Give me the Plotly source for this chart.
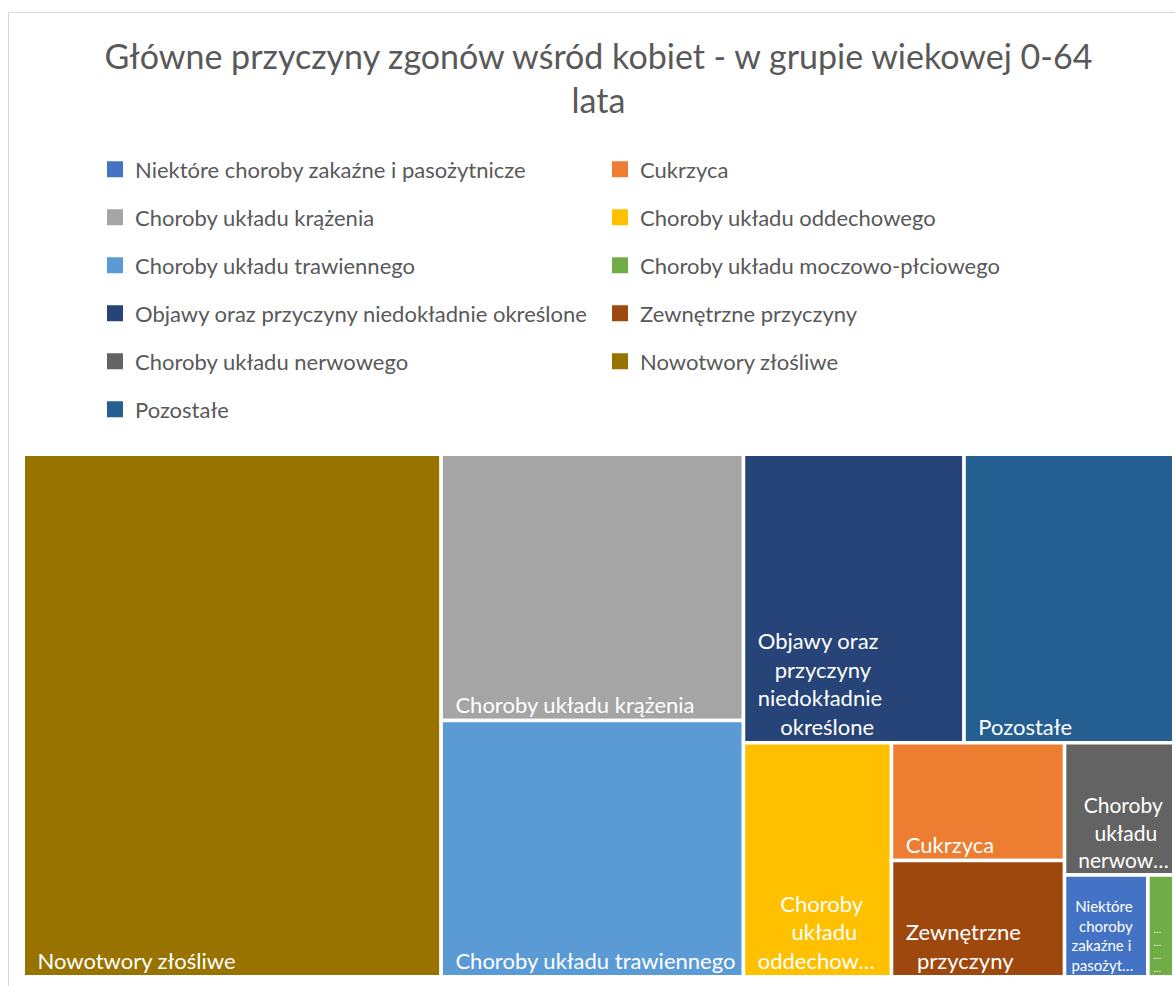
import plotly.graph_objects as go

# ---- data ----
categories = [
    "Nowotwory złośliwe",
    "Choroby układu krążenia",
    "Choroby układu trawiennego",
    "Objawy oraz przyczyny niedokładnie określone",
    "Pozostałe",
    "Choroby układu oddechowego",
    "Cukrzyca",
    "Zewnętrzne przyczyny",
    "Choroby układu nerwowego",
    "Niektóre choroby zakaźne i pasożytnicze",
    "Choroby układu moczowo-płciowego",
]
values = [2162, 797, 767, 630, 599, 343, 202, 199, 143, 84, 26]

N = "\u00a0"
tile_text = [
    N * 2 + "Nowotwory złośliwe",
    N * 2 + "Choroby układu krążenia",
    N * 2 + "Choroby układu trawiennego",
    "<br>".join([N * 2 + "Objawy oraz", N * 5 + "przyczyny",
                 N * 2 + "niedokładnie", N * 6 + "określone"]),
    N * 2 + "Pozostałe",
    "<br>".join([N * 6 + "Choroby", N * 8 + "układu", N * 2 + "oddechow…"]),
    N * 2 + "Cukrzyca",
    "<br>".join([N * 2 + "Zewnętrzne", N * 4 + "przyczyny"]),
    "<br>".join([N * 3 + "Choroby", N * 5 + "układu", N * 2 + "nerwow…"]),
    "<br>".join([N * 2 + "Niektóre", N * 3 + "choroby",
                 N * 1 + "zakaźne i", N * 1 + "pasożyt…"]),
    "<br>".join([N + "…", N + "…", N + "…", N + "…"]),
]
text_sizes = [22, 22, 22, 22, 22, 22, 22, 22, 21, 15, 10]
colors = {
    "Niektóre choroby zakaźne i pasożytnicze": "#4472C4",
    "Cukrzyca": "#ED7D31",
    "Choroby układu krążenia": "#A5A5A5",
    "Choroby układu oddechowego": "#FFC000",
    "Choroby układu trawiennego": "#5B9BD5",
    "Choroby układu moczowo-płciowego": "#70AD47",
    "Objawy oraz przyczyny niedokładnie określone": "#264478",
    "Zewnętrzne przyczyny": "#9E480E",
    "Choroby układu nerwowego": "#636363",
    "Nowotwory złośliwe": "#997300",
    "Pozostałe": "#255E91",
}
legend_left = [
    "Niektóre choroby zakaźne i pasożytnicze",
    "Choroby układu krążenia",
    "Choroby układu trawiennego",
    "Objawy oraz przyczyny niedokładnie określone",
    "Choroby układu nerwowego",
    "Pozostałe",
]
legend_right = [
    "Cukrzyca",
    "Choroby układu oddechowego",
    "Choroby układu moczowo-płciowego",
    "Zewnętrzne przyczyny",
    "Nowotwory złośliwe",
]
title_text = "Główne przyczyny zgonów wśród kobiet - w grupie wiekowej 0-64<br>lata"

W, H = 1175, 986
FONT = "Lato"
TXT = "#595959"

fig = go.Figure()

fig.add_trace(go.Treemap(
    labels=categories,
    parents=[""] * len(categories),
    values=values,
    text=tile_text,
    texttemplate="%{text}",
    textposition="bottom left",
    textfont=dict(family=FONT, color="white", size=text_sizes),
    marker=dict(colors=[colors[c] for c in categories],
                line=dict(color="white", width=3.5),
                pad=dict(t=0, l=0, r=0, b=0)),
    tiling=dict(packing="squarify", squarifyratio=1, pad=0),
    pathbar=dict(visible=False),
    sort=True,
    hoverinfo="label+value",
    domain=dict(x=[23.25 / W, 1173.75 / W], y=[1 - 976.75 / H, 1 - 454.25 / H]),
))

for i, name in enumerate(legend_left):
    fig.add_trace(go.Scatter(
        x=[None], y=[None], mode="markers", name=name,
        marker=dict(symbol="square", size=16, color=colors[name]),
        legend="legend", legendgroup="L%d" % i, showlegend=True,
    ))
for i, name in enumerate(legend_right):
    fig.add_trace(go.Scatter(
        x=[None], y=[None], mode="markers", name=name,
        marker=dict(symbol="square", size=16, color=colors[name]),
        legend="legend2", legendgroup="R%d" % i, showlegend=True,
    ))

legend_common = dict(
    font=dict(family=FONT, size=22, color=TXT),
    bgcolor="rgba(0,0,0,0)",
    tracegroupgap=16.4,
    yanchor="top",
    xanchor="left",
    itemclick=False,
    itemdoubleclick=False,
)

fig.update_layout(
    width=W, height=H,
    margin=dict(l=0, r=0, t=0, b=0),
    paper_bgcolor="white",
    plot_bgcolor="white",
    title=dict(text=title_text, x=598.5 / W, xanchor="center",
               y=1 - 69 / H, yanchor="top", yref="container",
               font=dict(family=FONT, size=34, color=TXT)),
    xaxis=dict(visible=False),
    yaxis=dict(visible=False),
    legend=dict(x=95 / W, y=1 - 148.5 / H, **legend_common),
    legend2=dict(x=600 / W, y=1 - 148.5 / H, **legend_common),
    shapes=[dict(type="rect", xref="paper", yref="paper",
                 x0=8.5 / W, x1=1.05, y0=-0.05, y1=1 - 12.5 / H,
                 line=dict(color="#D9D9D9", width=1), fillcolor="rgba(0,0,0,0)",
                 layer="below")],
)

fig.write_html(
    "out.html",
    config={"displayModeBar": False},
    post_script="document.body.style.margin='0';document.body.style.overflow='hidden';",
)
